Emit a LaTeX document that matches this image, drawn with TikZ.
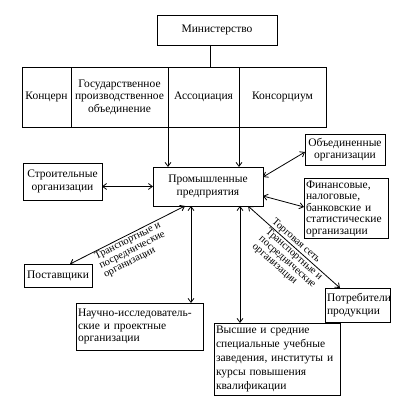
\documentclass[tikz,border=0pt]{standalone}
\usepackage{fontspec}
\setmainfont{Liberation Serif}
\usetikzlibrary{arrows.meta}
\begin{document}
\begin{tikzpicture}[x=1pt,y=-1pt,
  box/.style={draw, line width=0.8pt, inner sep=2pt, outer sep=0pt, align=center,
    font=\fontsize{11.5}{12.5}\selectfont},
  lbox/.style={box, align=left},
  lab/.style={inner sep=0.8pt, align=left, sloped, font=\fontsize{10.5}{10}\selectfont},
  conn/.style={line width=0.8pt},
  arr/.style={conn, -{Straight Barb[length=4pt,width=6pt]}},
  darr/.style={conn, {Straight Barb[length=4pt,width=6pt]}-{Straight Barb[length=4pt,width=6pt]}}]
\useasboundingbox (0,0) rectangle (408,406);

\node[box, minimum width=120pt, minimum height=30pt] (min) at (217,30) {Министерство};

\node[box, minimum width=49pt, minimum height=60pt, inner xsep=1pt] (konc) at (46.5,97) {Концерн};
\node[box, minimum width=97pt, minimum height=60pt] (gos) at (119.5,97) {Государственное\\производственное\\объединение};
\node[box, minimum width=71pt, minimum height=60pt] (assoc) at (203.5,97) {Ассоциация};
\node[box, minimum width=87pt, minimum height=60pt] (kons) at (282.5,97) {Консорциум};

\node[box, minimum width=110pt, minimum height=39pt] (prom) at (208,186.5) {Промышленные\\предприятия};
\node[box, minimum width=79pt, minimum height=37pt] (stroi) at (62.5,181.5) {Строительные\\организации};
\node[box, minimum width=80pt, minimum height=31pt] (obed) at (345,149.5) {Объединенные\\организации};
\node[lbox, text width=80pt, minimum height=59pt, font=\fontsize{11.5}{11.5}\selectfont] (fin) at (346,208.5) {Финансовые,\\налоговые,\\банковские и\\статистические\\организации};
\node[box, minimum width=68pt, minimum height=23pt] (post) at (58,275.5) {Поставщики};
\node[lbox, text width=123pt, minimum height=47pt] (nauch) at (139.5,326.5) {Научно-исследователь-\\ские и проектные\\организации};
\node[lbox, text width=122pt, minimum height=72pt, font=\fontsize{11.5}{14}\selectfont] (vys) at (277,359) {Высшие и средние\\специальные учебные\\заведения, институты и\\курсы повышения\\квалификации};
\node[lbox, text width=61pt, minimum height=34pt] (potr) at (357.5,305) {Потребители\\продукции};

\draw[conn] ([xshift=-7pt]min.south) -- ([xshift=-7pt]min.south |- assoc.north);
\draw[arr] (assoc.south west) -- (assoc.south west |- prom.north);
\draw[arr] (kons.south west) -- (kons.south west |- prom.north);
\draw[darr] (stroi.east |- prom.west) -- (prom.west);
\draw[darr] ([yshift=9.5pt]prom.east) -- ([yshift=-2.5pt]obed.west);
\draw[darr] ([yshift=-9.5pt]prom.east) -- ([yshift=1.5pt]fin.west);
\draw[darr] ([xshift=-23pt]prom.south) -- ([xshift=12pt]post.north)
  node[lab, below, pos=0.52] (l1) {Транспортные и\\посреднические\\организации};
\draw[darr] ([xshift=-17pt]prom.south) -- ([xshift=-17pt]prom.south |- nauch.north);
\draw[darr] ([xshift=32pt]prom.south) -- ([xshift=32pt]prom.south |- vys.north);
\draw[darr] ([xshift=40pt]prom.south) -- ([xshift=-17.5pt]potr.north)
  node[lab, above, pos=0.48] (l2) {Торговая сеть}
  node[lab, below, pos=0.54] (l3) {Транспортные и\\посреднические\\организации};
\end{tikzpicture}
\end{document}
